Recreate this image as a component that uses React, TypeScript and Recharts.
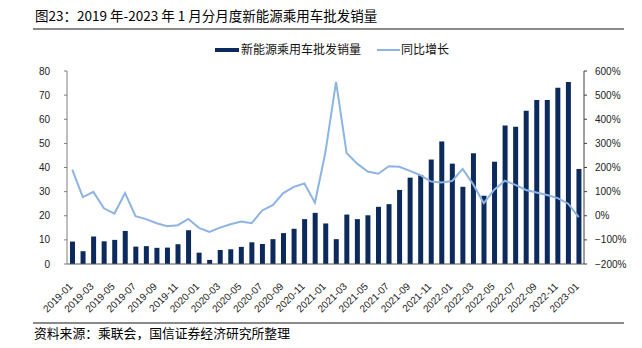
import React from "react";
import { ComposedChart, Bar, Line, XAxis, YAxis } from "recharts";

const months = [
  "2019-01","2019-02","2019-03","2019-04","2019-05","2019-06","2019-07","2019-08","2019-09","2019-10","2019-11","2019-12",
  "2020-01","2020-02","2020-03","2020-04","2020-05","2020-06","2020-07","2020-08","2020-09","2020-10","2020-11","2020-12",
  "2021-01","2021-02","2021-03","2021-04","2021-05","2021-06","2021-07","2021-08","2021-09","2021-10","2021-11","2021-12",
  "2022-01","2022-02","2022-03","2022-04","2022-05","2022-06","2022-07","2022-08","2022-09","2022-10","2022-11","2022-12",
  "2023-01",
];

const sales = [
  9.3, 5.3, 11.4, 9.4, 10.0, 13.7, 7.2, 7.4, 6.7, 6.8, 8.2, 14.0,
  4.7, 1.7, 5.8, 6.1, 7.1, 9.0, 8.3, 10.3, 12.8, 14.6, 18.6, 21.2,
  16.8, 10.3, 20.5, 18.6, 20.2, 23.7, 24.8, 30.7, 35.8, 36.9, 43.3, 50.8,
  41.6, 32.0, 45.9, 28.3, 42.4, 57.4, 56.9, 63.5, 68.0, 68.0, 73.1, 75.4,
  39.4,
];

const yoy = [
  191, 77, 99, 31, 9, 94, -2, -14, -31, -43, -39, -13,
  -50, -67, -49, -35, -24, -31, 22, 44, 94, 120, 134, 54,
  265, 555, 260, 216, 183, 174, 205, 203, 186, 168, 142, 138,
  144, 194, 130, 52, 108, 145, 128, 107, 96, 86, 73, 50,
  -6,
];

const leftTicks = [0, 10, 20, 30, 40, 50, 60, 70, 80];
const rightTicks = [-200, -100, 0, 100, 200, 300, 400, 500, 600];

const title = "图23：2019 年-2023 年 1 月分月度新能源乘用车批发销量";
const source = "资料来源：乘联会，国信证券经济研究所整理";
const barName = "新能源乘用车批发销量";
const lineName = "同比增长";

const data = months.map((m, i) => ({ month: m, sales: sales[i], yoy: yoy[i] }));

const BAR_COLOR = "#0C2A5C";
const LINE_COLOR = "#8DB4E2";
const FONT = "'Liberation Sans', Arial, sans-serif";
const CJK = "'Noto Sans CJK SC', sans-serif";

const XTick = (props: any) => {
  const { x, y, payload } = props;
  return (
    <g transform={`translate(${x + 1},${y + 15}) rotate(-45)`}>
      <text x={0} y={0} textAnchor="end" fontSize={10} fill="#222" fontFamily={FONT}>
        {payload.value}
      </text>
    </g>
  );
};

const fmtPct = (v: number) => (v < 0 ? `−${Math.abs(v)}%` : `${v}%`);

export default function App() {
  return (
    <div style={{ position: "absolute", left: 0, top: 0, width: 642, height: 348, background: "#fff", overflow: "hidden" }}>
      <div style={{ position: "absolute", left: 35, top: 5, fontFamily: CJK, fontSize: 13.5, lineHeight: "20px", color: "#000", whiteSpace: "nowrap" }}>
        {title}
      </div>
      <div style={{ position: "absolute", left: 33, top: 28, width: 591, height: 1.5, background: "#8a8a8a" }} />
      {/* legend */}
      <div style={{ position: "absolute", left: 215, top: 47.5, width: 24, height: 4, background: BAR_COLOR }} />
      <div style={{ position: "absolute", left: 241, top: 40, fontFamily: CJK, fontSize: 12, lineHeight: "18px", color: "#111", whiteSpace: "nowrap" }}>
        {barName}
      </div>
      <div style={{ position: "absolute", left: 377, top: 48.5, width: 23, height: 2, background: LINE_COLOR }} />
      <div style={{ position: "absolute", left: 401, top: 40, fontFamily: CJK, fontSize: 12, lineHeight: "18px", color: "#111", whiteSpace: "nowrap" }}>
        {lineName}
      </div>

      <div style={{ position: "absolute", left: 0, top: 0 }}>
        <ComposedChart width={642} height={348} data={data} margin={{ top: 71, right: 8, bottom: 24, left: 17 }} barCategoryGap={0}>
          <XAxis
            dataKey="month"
            interval={1}
            tick={<XTick />}
            tickLine={false}
            axisLine={{ stroke: "#595959", strokeWidth: 1.2 }}
            height={60}
          />
          <YAxis
            yAxisId="left"
            domain={[0, 80]}
            ticks={leftTicks}
            width={50}
            tickSize={3}
            tickMargin={14}
            axisLine={{ stroke: "#7f7f7f" }}
            tickLine={{ stroke: "#7f7f7f" }}
            tick={{ fontSize: 10, fill: "#222", fontFamily: FONT }}
            interval={0}
          />
          <YAxis
            yAxisId="right"
            orientation="right"
            domain={[-200, 600]}
            ticks={rightTicks}
            width={50}
            tickSize={3}
            tickMargin={8}
            axisLine={{ stroke: "#404040" }}
            tickLine={{ stroke: "#404040" }}
            tick={{ fontSize: 10, fill: "#222", fontFamily: FONT }}
            tickFormatter={fmtPct}
            interval={0}
          />
          <Bar yAxisId="left" dataKey="sales" fill={BAR_COLOR} barSize={5} isAnimationActive={false} />
          <Line yAxisId="right" dataKey="yoy" stroke={LINE_COLOR} strokeWidth={2} dot={false} type="linear" isAnimationActive={false} />
        </ComposedChart>
      </div>

      <div style={{ position: "absolute", left: 33, top: 322, width: 591, height: 1.5, background: "#8a8a8a" }} />
      <div style={{ position: "absolute", left: 34, top: 324, fontFamily: CJK, fontSize: 12.8, lineHeight: "18px", color: "#000", whiteSpace: "nowrap" }}>
        {source}
      </div>
    </div>
  );
}
